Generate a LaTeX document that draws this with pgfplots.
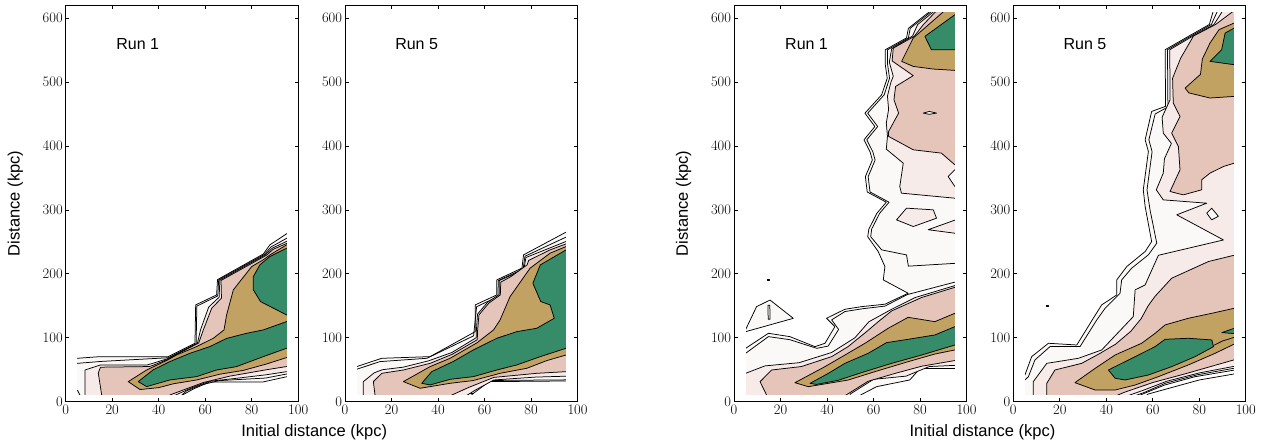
\documentclass[border=0pt]{standalone}
\usepackage[no-math]{fontspec}
\setmainfont{Liberation Sans}
\newfontfamily\lmr{Latin Modern Roman}
\usepackage{pgfplots}
\pgfplotsset{compat=1.18}

\definecolor{cA}{HTML}{FBF9F8}
\definecolor{cB}{HTML}{F7EBEA}
\definecolor{cC}{HTML}{E5C5BA}
\definecolor{cD}{HTML}{C2A263}
\definecolor{cE}{HTML}{368B69}

\newcommand{\rg}[2]{\addplot[fill=#1,draw=black,line width=0.75pt,line join=round,mark=none] coordinates {#2} -- cycle;}
\newcommand{\cl}[1]{\addplot[draw=black,line width=0.75pt,line join=round,mark=none] coordinates {#1};}
\newcommand{\covers}{%
 \addplot[fill=white,draw=none,mark=none] coordinates {(-2,-10) (5,-10) (5,630) (-2,630)} -- cycle;
 \addplot[fill=white,draw=none,mark=none] coordinates {(95,-10) (102,-10) (102,630) (95,630)} -- cycle;
 \addplot[fill=white,draw=none,mark=none] coordinates {(-2,-10) (102,-10) (102,10) (-2,10)} -- cycle;
 \addplot[fill=white,draw=none,mark=none] coordinates {(-2,610) (102,610) (102,630) (-2,630)} -- cycle;}

\tikzset{runlab/.style={anchor=base west, font=\fontsize{16}{16}\selectfont}}

\pgfplotsset{
  panel/.style={
    anchor=south west, width=232.5pt, height=396.4pt, scale only axis,
    xmin=0, xmax=100, ymin=0, ymax=620,
    xtick={0,20,40,60,80,100}, ytick={0,100,200,300,400,500,600},
    minor tick num=0,
    tick align=inside, tick pos=both,
    xticklabel pos=lower, yticklabel pos=left,
    major tick length=3.5pt,
    every tick/.style={black, line width=0.7pt},
    axis line style={line width=1pt},
    /pgf/number format/assume math mode=true,
    ticklabel style={font=\lmr\fontsize{14.5}{14.5}\selectfont},
    yticklabel style={xshift=0.5pt},
    axis on top,
  },
  ylab/.style={ylabel={Distance (kpc)}, ylabel style={at={(axis description cs:-0.217,0.5)}, anchor=center, font=\fontsize{16.5}{16.5}\selectfont}},
}

\begin{document}
\begin{tikzpicture}
\useasboundingbox (0,0) rectangle (1263pt,445pt);

% ---------------- Panel 1 ----------------
\begin{axis}[panel, ylab, at={(65.7pt,43.3pt)}]
\rg{cA}{(4,67.9) (5,67.9) (14.7,70.5) (44.1,70.5) (55.6,91.4) (55.9,151.4) (64.9,167) (65.3,191) (85,231) (87.8,245.3) (96,265) (96,39) (95,39) (85,31) (62,31) (55,20) (50,10) (50,9) (4,9)}
\cl{(4,60) (5,60) (15.3,63) (44.3,68.8) (56.1,90.8) (56.4,149.5) (65.4,165.5) (65.8,190.6) (85.4,230.2) (88.3,242) (96,257.5)}
\cl{(96,44) (86,37) (66,33) (58,26) (52,17) (49.5,9)}
\cl{(5,18.3) (6.1,10.5) (6.3,9)}
\rg{cB}{(96,252.5) (88.8,240) (85.8,229.6) (66.3,190.2) (66,163.5) (61.5,148) (58,112.5) (56.6,90.5) (48.5,76.3) (44,67.5) (37,59.5) (35,57.5) (15,57.5) (8.3,49.6) (8.3,9) (47,9) (47,10) (55,23) (62,32) (72,36) (86,42) (95,47) (96,47)}
\rg{cC}{(96,249) (89.3,238.5) (86.3,229) (66.8,189.6) (67,162) (62.8,146.2) (59.2,112.3) (57.2,91.8) (48,74.5) (44,66.5) (38,57.5) (36,55) (15,54) (14,45) (15.5,10) (15.5,9) (44.8,9) (44.8,10.5) (59.2,30) (70.6,40) (86.4,50) (95,55) (96,55)}
\rg{cD}{(96,245.5) (95,245.3) (88,230) (85,222) (80,211.4) (72.1,174.9) (69.2,135.7) (68.1,112.3) (63.5,99.2) (56.3,86.2) (47.7,73.1) (43.4,64.5) (34.8,49.6) (26.9,31.4) (32,19) (40,22) (46.3,28) (56.3,34) (66.3,43) (76.4,49) (86.4,59) (95,69) (96,69.5)}
\rg{cE}{(96,125.6) (95,125.3) (85,112.3) (77.8,107) (69.2,99) (62,86.2) (53.4,75.7) (44.8,62.7) (37.7,50) (31.2,31.4) (34.8,23.6) (44.8,34) (56.3,39.2) (64.9,49.6) (73.5,54.9) (85,70.5) (95,83.6) (96,84)}
\rg{cE}{(96,240) (95,240) (87.8,227) (83.5,214) (80.7,195.7) (80.7,175) (83.8,156.6) (95,135.7) (96,135.5)}
\covers
\node[runlab] at (axis cs:20.3,550.5) {Run 1};
\end{axis}

% ---------------- Panel 2 ----------------
\begin{axis}[panel, at={(345pt,43.3pt)}]
\rg{cA}{(4,54) (5,54.9) (15.8,67.9) (36.6,70.5) (56,109.6) (56,151.4) (65.3,167) (65.3,190.5) (76.1,209) (76.8,229.7) (96,267) (96,32.5) (95.1,32.4) (62,31.4) (55.2,13) (54,9) (4,9)}
\cl{(4,50.5) (5,50.7) (15,62.7) (35.2,67.9) (55.3,103) (56.6,148.5) (65.8,164.5) (65.9,189.5) (76.6,207.5) (77.4,227.5) (96,259)}
\cl{(55.2,13) (35.2,10.6) (35,9)}
\cl{(96,34.2) (63,33.2)}
\rg{cB}{(7.9,9) (7.9,31.4) (12.5,45) (16,50) (25,54) (36,64) (46,77) (56.4,100) (56.5,111) (57,137) (61.3,155.5) (66.3,167.5) (66.4,189.5) (76.9,206.5) (77.8,225.5) (96,252) (96,40) (82,38.5) (64,34) (56,18) (52,9)}
\rg{cC}{(96,248) (88.2,237.5) (79,221) (78.3,214) (71.5,196) (67,187) (66.8,167) (61.8,154) (57.6,135.7) (57,110) (56.9,97) (46,74) (36.6,60) (25.1,49.6) (15.8,44.4) (12.2,31.4) (12.9,10.5) (12.9,9) (46,9) (46,10.5) (53,22) (64,38) (82.5,44.4) (95.1,47) (96,47)}
\rg{cD}{(96,243) (95.1,242.7) (88.2,232.3) (79.6,208.8) (71,164.4) (66.7,127.9) (63.9,112.3) (56.7,92) (45.2,67.9) (36.6,54.9) (25.1,31.4) (32.3,21) (45.2,28.8) (55,33) (66.7,44.4) (78.2,52.3) (86.8,64.3) (95.1,73.1) (96,73.5)}
\rg{cE}{(96,237.8) (95.1,237.5) (84,214) (80.8,185.3) (84.2,156.6) (88.2,151.4) (90,130.5) (82.5,114.9) (73.9,109.6) (65.3,99.2) (55.2,81) (46.6,63) (37.3,47) (33,28.8) (36.6,26.2) (45.2,35) (55.2,39.2) (65.3,49.6) (73.9,57.5) (84,70.5) (95.1,83.6) (96,84)}
\covers
\node[runlab] at (axis cs:20.1,550.5) {Run 5};
\end{axis}

% ---------------- Panel 3 ----------------
\begin{axis}[panel, ylab, at={(734pt,43.3pt)}]
\rg{cA}{(84.2,611) (84.2,610.4) (75,584) (74.2,569) (65,550.4) (65,529) (65.9,506) (63.5,480) (56.3,451.3) (60.6,430.4) (55.9,409.6) (58.5,391) (59.5,378) (56.5,352) (57.3,328) (65.5,312) (61.5,295) (58,270) (57.5,258) (62,235) (64.9,211.4) (64.2,190.5) (74.9,169.6) (64.9,152.5) (54.9,148.7) (47.7,144.6) (39.8,130.5) (43.4,117.4) (39.1,91.3) (34.8,86.1) (24,101.8) (14.8,107) (5,83.5) (4,83.5) (4,9) (54.2,9) (54.2,10) (61.3,23.5) (75.6,34) (80,52) (96,52) (96,611)}
\rg{cA}{(4.5,109) (9.7,148.7) (15.5,159) (25.5,130.4)}
\rg{cA}{(14.6,151) (15.4,151) (15.5,129) (14.7,129)}
\rg{black}{(14.5,189.5) (15.2,189.5) (15.2,191.3) (14.5,191.3)}
\cl{(85,611) (85,610.4) (75.8,584) (75,569) (66,550.4) (66,529) (66.9,506) (64.6,480) (57.5,451.3) (61.8,430.4) (57.1,409.6) (59.7,391) (60.7,378) (57.7,352) (58.5,328) (66.7,312) (62.7,295) (59.2,270) (58.8,258) (63.5,237.5) (74.2,229.6) (75,212) (96,216.6)}
\cl{(4,75.7) (5,75.7) (14.8,101.8) (24,97) (35.6,83.5) (40.5,87) (45,113) (42,128) (47.7,141) (55.5,145.5) (64.9,149.5) (74.5,167.5) (96,188)}
\cl{(5,16) (6.9,10.5) (7,9)}
\rg{cB}{(4,44.4) (5,44.4) (9,50) (13.3,56) (28,61) (42,77) (52,100) (58,125) (68,145) (78,163) (96,182.7) (96,57) (84,55) (74,40) (60,35) (50,12) (50,9) (4,9)}
\rg{cC}{(14,9) (14,10.5) (11.2,31.3) (16.2,49.6) (29,55) (42,70.5) (49,86) (57,109.6) (62,125) (67.8,142) (80.7,163) (96,180) (96,65) (80.7,55.5) (70,45) (57.7,32) (48,10) (48,9)}
\rg{cD}{(96,138.5) (95,138.3) (86.4,125.2) (74.9,132) (66.3,114.8) (56.3,91.3) (47.7,73) (39.1,54.8) (26.2,29.7) (32,23.5) (49.1,33.9) (60.6,47) (74.9,62.6) (86.4,74.6) (95,80.9) (96,81.5)}
\rg{cE}{(96,117.6) (95,117.4) (86.4,104.4) (74.9,97.6) (65.6,92.4) (57.7,75.7) (47.7,60) (40.6,44.4) (32.7,28.7) (35.5,27) (44.8,33.5) (54.9,45.5) (67.8,60) (80.7,73) (95,88.7) (96,89.3)}
\rg{cB}{(86,611) (86,610.4) (79,590) (76.8,572) (67.8,552) (66.8,531) (68.5,509) (67.5,500) (66,478) (66.5,457) (65.5,436) (66,415) (65.5,395) (70.5,380) (72.8,373) (71.3,336.6) (72,326.2) (95,318.3) (96,318.3) (96,611)}
\rg{cC}{(86.8,611) (86.8,610.4) (81.4,589.7) (77.5,571.4) (68.5,553) (68,533) (77.1,510) (69.5,493.1) (68.8,472.3) (70.8,451.4) (66.5,422.7) (66.5,414.9) (77.1,394) (89.2,388.8) (95,370.5) (96,370.5) (96,611)}
\rg{cD}{(96,611) (90.2,611) (90.2,610.4) (77.1,568.8) (72.1,532.3) (77.1,524.4) (85.7,520.3) (95,518.2) (96,518.2)}
\rg{cE}{(96,606) (95,605.3) (82.1,571.4) (84.9,550.5) (95,550.5) (96,550.5)}
\rg{cA}{(81.4,451.4) (84,454) (87.1,451.4) (84,449.5)}
\rg{cA}{(96,362.7) (95,362.7) (92.1,352.2) (95,336.6) (96,336.6)}
\rg{cB}{(69.9,284.4) (74.2,302.7) (85.7,300.1) (87.1,287) (77.1,274)}
\rg{cB}{(96,284) (95,284) (83.5,269) (95,263.5) (96,263.5)}
\covers
\node[runlab] at (axis cs:20.5,550.5) {Run 1};
\end{axis}

% ---------------- Panel 4 ----------------
\begin{axis}[panel, at={(1013.3pt,43.3pt)}]
\rg{cA}{(86,611) (84.3,590) (75.3,571.4) (65.3,550.5) (65.5,462) (59.5,454) (56.7,409.6) (58.1,391.4) (55.9,331.4) (56.7,305.3) (59.5,250.5) (56.7,234.9) (48.8,211.4) (44.5,190.5) (44.5,167) (38,151.4) (34.4,130.5) (27.3,88.7) (15.1,91.4) (7.9,70.5) (5,41.8) (4,38) (4,9) (54,9) (55,11) (65,26) (78,39) (96,50) (96,611)}
\cl{(87.8,611) (85.2,590) (76.2,571.4) (66.3,550.5) (66.5,461) (61,450) (58.3,409.6) (59.7,391) (57.5,331.4) (58.8,300.1) (61.7,247.9) (58.1,229.7) (50.9,208.8) (46.6,190.5) (45.9,169.6) (39.5,146.2) (35.9,127.9) (28.7,86.2) (15.8,86.2) (9.3,65.3) (6.5,39.2) (5,34) (4,31)}
\cl{(96,53) (79,42) (65.5,29) (56,14) (52,9)}
\cl{(96,44) (80,34) (68,22) (58,12) (57,9)}
\rg{black}{(14.3,149.5) (15.1,149.5) (15.1,151.2) (14.3,151.2)}
\rg{cB}{(90,611) (86.3,590) (77,571.4) (67.3,550.5) (67.4,472) (64,445) (64.5,420) (68,404) (65,380) (64.5,357.5) (61.5,331.4) (64.5,315.7) (83.2,310.5) (70.3,292.3) (90.4,253) (62.4,229) (56.7,182.7) (52.4,174.9) (51.6,133.1) (38,80.9) (28,67.9) (14.4,60) (8.6,31.4) (8.6,9) (49,9) (56,18) (66,32) (80,45) (96,56) (96,611)}
\rg{cC}{(14.4,9) (14.4,10.5) (14.4,28.7) (17.9,49.6) (29.4,60) (37,75) (44,90) (50.5,110) (55,130) (58,150) (61,165) (68.1,193.1) (83.9,219.2) (96,230) (96,66) (94.7,65.2) (74.6,44.3) (60,30) (48,15) (44,9)}
\rg{cD}{(96,146.5) (95.1,146.2) (85.4,138.3) (75.3,130.5) (65.3,120.1) (61,107) (55.2,91.4) (43.8,73.1) (35.2,52.2) (26.5,29.8) (35.2,18.3) (43.8,18.3) (52.4,26.1) (62.4,39.2) (75.3,57.5) (86.8,75.7) (95.1,90.3) (96,91)}
\rg{cE}{(40.9,49.6) (43.8,36.6) (48.1,34) (58.1,41.8) (68.1,54.8) (78.2,70.5) (86.1,86.1) (85.4,96.6) (75.3,99.2) (65.3,97.6) (61,86.2) (51,67.9) (42.3,52.2)}
\rg{cE}{(96,115.5) (95.1,114.9) (89.7,108.1) (95.1,106.5) (96,106.5)}
\cl{(86.1,88) (90,95) (96,101.8)}
\rg{cC}{(96,611) (94.5,611) (94.5,610.4) (87,590) (77.5,572) (72,537.5) (68.5,506) (68.8,467.1) (71.7,446.2) (68.1,420.1) (71,399.2) (71.7,362.7) (67.4,328.8) (73.1,323.5) (81,331.4) (81,347) (84.6,357.5) (90.4,367.9) (95,373.1) (96,373.1)}
\rg{cD}{(96,592.5) (95,592.3) (88.5,582) (84.6,561) (81.3,536) (80.5,512) (73.9,490.5) (75.5,483) (84.6,475) (95,477.5) (96,477.5)}
\rg{cE}{(96,585) (95,584.4) (91.1,576.6) (89.6,550.5) (84.6,532.3) (95,527.1) (96,527.1)}
\rg{cA}{(83.2,295) (85.3,302.7) (88.2,290) (85.3,284.4)}
\covers
\node[runlab] at (axis cs:20.1,550.5) {Run 5};
\end{axis}

\node[anchor=base, font=\fontsize{16.5}{16.5}\selectfont] at (314.2pt,9pt) {Initial distance (kpc)};
\node[anchor=base, font=\fontsize{16.5}{16.5}\selectfont] at (982.5pt,9pt) {Initial distance (kpc)};
\end{tikzpicture}
\end{document}
